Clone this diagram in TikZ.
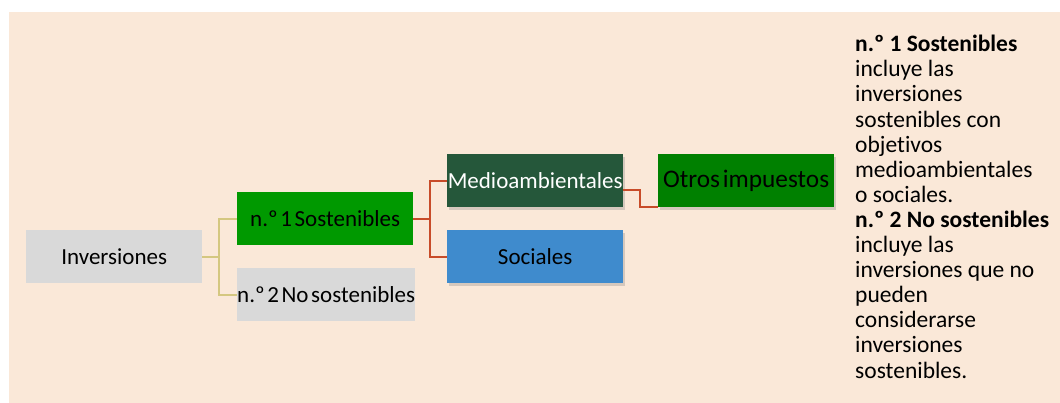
\documentclass[tikz,border=0pt]{standalone}
\usepackage{fontspec}
\setmainfont{Carlito}[Ligatures=NoCommon]
\newfontfamily\boxfont{Carlito}[WordSpace=0.5,Ligatures=NoCommon]
\usetikzlibrary{shadows}
\definecolor{bgc}{RGB}{250,232,216}
\definecolor{grayc}{RGB}{217,217,217}
\definecolor{greenA}{RGB}{0,153,0}
\definecolor{greenD}{RGB}{37,87,58}
\definecolor{blueS}{RGB}{63,139,205}
\definecolor{greenO}{RGB}{0,128,0}
\definecolor{oliveL}{RGB}{212,199,128}
\definecolor{redL}{RGB}{200,76,41}
\begin{document}
\begin{tikzpicture}[x=1pt,y=-1pt,
  box/.style={minimum width=176pt,minimum height=53pt,inner sep=0pt,font=\boxfont\fontsize{23}{25}\selectfont,anchor=north west},
  shad/.style={drop shadow={opacity=0.3,shadow xshift=2pt,shadow yshift=-3pt}},
  lineA/.style={draw=oliveL,line width=2pt},
  lineB/.style={draw=redL,line width=2pt}]
\useasboundingbox (0,0) rectangle (1060,403);
\fill[bgc] (9,12) rectangle (1060,403);
\node[box,fill=grayc] (inv) at (26,230) {Inversiones};
\node[box,fill=greenA] (s1) at (237,192) {n.º 1 Sostenibles};
\node[box,fill=grayc] (s2) at (237,268) {n.º 2 No sostenibles};
\node[box,fill=greenD,text=white,shad] (med) at (447,154) {Medioambientales};
\node[box,fill=blueS,shad] (soc) at (447,230) {Sociales};
\node[box,fill=greenO,shad,font=\boxfont\fontsize{25.3}{27}\selectfont] (otr) at (658,154) {Otros impuestos};
\draw[lineA] (inv.east) -- ++(17,0) coordinate (ja);
\draw[lineA] (s1.west) -| (ja) |- (s2.west);
\draw[lineB] (s1.east) -- ++(17,0) coordinate (jb);
\draw[lineB] (med.west) -| (jb) |- (soc.west);
\draw[lineB] ([yshift=-9pt]med.east) -- ++(17,0) |- (otr.south west);
\node[anchor=base west,align=left,inner sep=0pt,font=\fontsize{23.5}{25.1}\selectfont] (txt) at (855,378) {%
\textbf{n.º 1 Sostenibles}\\
incluye las\\
inversiones\\
sostenibles con\\
objetivos\\
medioambientales\\
o sociales.\\
\textbf{n.º 2 No sostenibles}\\
incluye las\\
inversiones que no\\
pueden\\
considerarse\\
inversiones\\
sostenibles.};
\end{tikzpicture}
\end{document}
